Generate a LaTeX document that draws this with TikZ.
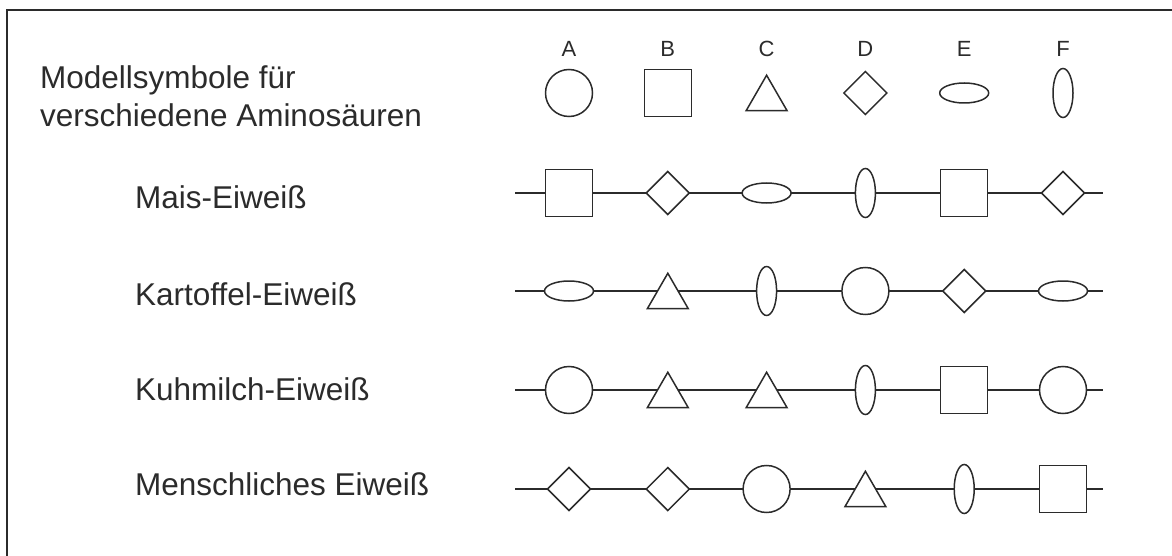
\documentclass[tikz,border=0pt]{standalone}
\usepackage{fontspec}
\setmainfont{Liberation Sans}
\usetikzlibrary{shapes.geometric}
\definecolor{ink}{HTML}{2B2B2B}
\begin{document}
\begin{tikzpicture}[x=1pt,y=-1pt,
  sym/.style={draw=ink,line width=1.5pt,fill=white,inner sep=0pt,outer sep=0pt},
  symA/.style={sym,circle,minimum size=47pt},
  symB/.style={sym,rectangle,minimum size=47pt},
  symC/.style={sym,regular polygon,regular polygon sides=3,minimum size=47.3pt,yshift=-5.9pt},
  symD/.style={sym,diamond,minimum width=43pt,minimum height=43pt},
  symE/.style={sym,ellipse,minimum width=49pt,minimum height=20pt},
  symF/.style={sym,ellipse,minimum width=20pt,minimum height=49pt},
  chainline/.style={draw=ink,line width=1.5pt},
  lbl/.style={font=\fontsize{31.5}{37.7}\selectfont,text=ink,inner sep=0pt,anchor=base west},
  colhead/.style={font=\fontsize{22}{26}\selectfont,text=ink,inner sep=0pt}
]
\useasboundingbox (0,0) rectangle (1172,556);
% frame
\draw[ink,line width=2.5pt] (7,570) -- (7,10) -- (1190,10);
% title
\node[lbl,align=left] (title) at (40,126.7) {Modellsymbole für\\verschiedene Aminosäuren};
% column heads and reference symbols
\foreach \l [count=\i] in {A,B,C,D,E,F} {
  \node[colhead] (h\i) at ({470.2+98.8*\i},49) {\l};
  \node[sym\l] (t\i) at ({470.2+98.8*\i},93) {};
}
% rows
\foreach \r/\y/\ty/\name/\seq in {
  1/193/208/Mais-Eiweiß/{B,D,E,F,B,D},
  2/291/305/Kartoffel-Eiweiß/{E,C,F,A,D,E},
  3/390/400/Kuhmilch-Eiweiß/{A,C,C,F,B,A},
  4/489/495/Menschliches Eiweiß/{D,D,A,C,F,B}} {
  \node[lbl] (lab\r) at (135,\ty) {\name};
  \coordinate (r\r s) at (515,\y);
  \coordinate (r\r e) at (1103,\y);
  \foreach \i in {1,...,6} {\coordinate (r\r p\i) at ({470.2+98.8*\i},\y);}
  \draw[chainline] (r\r s) \foreach \i in {1,...,6} {-- (r\r p\i)} -- (r\r e);
  \foreach \s [count=\i] in \seq {
    \node[sym\s] (r\r n\i) at (r\r p\i) {};
  }
}
\end{tikzpicture}
\end{document}
